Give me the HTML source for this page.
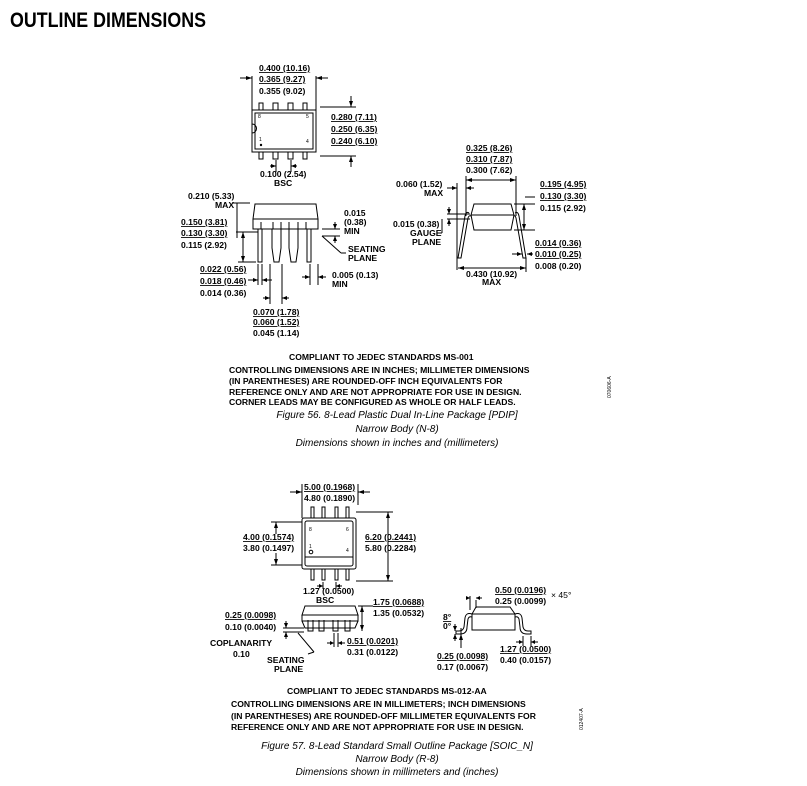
<!DOCTYPE html>
<html><head><meta charset="utf-8"><style>
body{margin:0;background:#fff;width:807px;height:786px;overflow:hidden}
svg{display:block}
text{font-family:"Liberation Sans",Arial,sans-serif;font-size:8.6px;font-weight:bold;fill:#000}
.u{text-decoration:underline}
.c{font-size:10px;font-style:italic;font-weight:normal}
.s{font-size:5px;font-weight:normal}
.t{font-family:"Liberation Sans Narrow","Liberation Sans",sans-serif;font-size:21px;font-weight:bold}
line,path,rect,polyline,polygon,circle{stroke:#000;stroke-width:1;fill:none}
.a{fill:#000;stroke:none}
</style></head><body>
<svg width="807" height="786" viewBox="0 0 807 786">
<text x="10" y="27" class="t" textLength="196" lengthAdjust="spacingAndGlyphs">OUTLINE DIMENSIONS</text>

<!-- PDIP top view -->
<text x="259" y="71" class="u">0.400 (10.16)</text>
<text x="259" y="82" class="u">0.365 (9.27)</text>
<text x="259" y="94">0.355 (9.02)</text>
<line x1="252" y1="76" x2="252" y2="110"/><line x1="316" y1="76" x2="316" y2="110"/>
<line x1="240" y1="78" x2="252" y2="78"/><polygon class="a" points="252,78 246,76 246,80"/>
<line x1="316" y1="78" x2="328" y2="78"/><polygon class="a" points="316,78 322,76 322,80"/>
<rect x="252" y="110" width="64" height="42" stroke-width="1.5"/>
<rect x="255" y="113" width="58" height="36" stroke-width="0.6"/>
<path d="M252,124 a4,4 0 0 1 0,9" />
<g>
<rect x="259" y="103" width="4" height="7"/><rect x="273" y="103" width="5" height="7"/><rect x="288" y="103" width="5" height="7"/><rect x="303" y="103" width="4" height="7"/>
<rect x="259" y="152" width="4" height="7"/><rect x="273" y="152" width="5" height="7"/><rect x="288" y="152" width="5" height="7"/><rect x="303" y="152" width="4" height="7"/>
</g>
<text x="258" y="118" class="s">8</text><text x="306" y="118" class="s">5</text>
<text x="259" y="141" class="s">1</text><text x="306" y="143" class="s">4</text>
<circle cx="261" cy="145" r="1.2" class="a"/>
<line x1="320" y1="107" x2="356" y2="107"/><line x1="320" y1="156" x2="356" y2="156"/>
<line x1="351" y1="96" x2="351" y2="107"/><polygon class="a" points="351,107 349,101 353,101"/>
<line x1="351" y1="156" x2="351" y2="167"/><polygon class="a" points="351,156 349,162 353,162"/>
<text x="331" y="120" class="u">0.280 (7.11)</text>
<text x="331" y="132" class="u">0.250 (6.35)</text>
<text x="331" y="144" class="u">0.240 (6.10)</text>
<line x1="276" y1="160" x2="276" y2="172"/><line x1="291" y1="160" x2="291" y2="172"/>
<line x1="270" y1="166" x2="276" y2="166"/><polygon class="a" points="276,166 271,164 271,168"/>
<line x1="291" y1="166" x2="297" y2="166"/><polygon class="a" points="291,166 296,164 296,168"/>
<text x="260" y="177">0.100 (2.54)</text><text x="274" y="186">BSC</text>

<!-- PDIP side view -->
<path d="M253,219 L255,204 L316,204 L318,219 Z" stroke-width="1"/>
<line x1="253" y1="219" x2="318" y2="219"/>
<path d="M253,219 L253,229 L318,229 L318,219"/>
<path d="M258,229 L258,262 L262,262 L262,229 M272,229 L272,248 L274,262 L279,262 L281,248 L281,229 M289,229 L289,248 L291,262 L296,262 L298,248 L298,229 M307,229 L307,262 L311,262 L311,229"/>
<path d="M261,222 L261,229 M273,222 L273,229 M281,222 L281,229 M289,222 L289,229 M298,222 L298,229 M306,222 L306,229"/>
<text x="188" y="199">0.210 (5.33)</text><text x="215" y="208">MAX</text>
<line x1="237" y1="203" x2="237" y2="238"/><line x1="233" y1="203" x2="250" y2="203"/>
<text x="181" y="225" class="u">0.150 (3.81)</text>
<text x="181" y="236" class="u">0.130 (3.30)</text>
<text x="181" y="248">0.115 (2.92)</text>
<line x1="236" y1="232" x2="258" y2="232"/><line x1="243" y1="232" x2="243" y2="262"/>
<polygon class="a" points="243,232 241,238 245,238"/><polygon class="a" points="243,262 241,256 245,256"/>
<line x1="238" y1="262" x2="256" y2="262"/>
<text x="344" y="216">0.015</text><text x="344" y="225">(0.38)</text><text x="344" y="234">MIN</text>
<line x1="322" y1="229" x2="340" y2="229"/><line x1="322" y1="236" x2="340" y2="236"/>
<line x1="335" y1="222" x2="335" y2="229"/><polygon class="a" points="335,229 333,224 337,224"/>
<line x1="335" y1="236" x2="335" y2="243"/><polygon class="a" points="335,236 333,241 337,241"/>
<line x1="322" y1="236" x2="341" y2="253"/><line x1="341" y1="253" x2="346" y2="253"/>
<text x="348" y="252">SEATING</text><text x="348" y="261">PLANE</text>
<text x="200" y="272" class="u">0.022 (0.56)</text>
<text x="200" y="284" class="u">0.018 (0.46)</text>
<text x="200" y="296">0.014 (0.36)</text>
<line x1="258" y1="264" x2="258" y2="285"/><line x1="262" y1="264" x2="262" y2="285"/>
<line x1="248" y1="280" x2="258" y2="280"/><polygon class="a" points="258,280 253,278 253,282"/>
<line x1="262" y1="280" x2="272" y2="280"/><polygon class="a" points="262,280 267,278 267,282"/>
<line x1="310" y1="264" x2="310" y2="285"/><line x1="318" y1="264" x2="318" y2="285"/>
<line x1="302" y1="277" x2="310" y2="277"/><polygon class="a" points="310,277 305,275 305,279"/>
<line x1="318" y1="277" x2="326" y2="277"/><polygon class="a" points="318,277 323,275 323,279"/>
<text x="332" y="278">0.005 (0.13)</text><text x="332" y="287">MIN</text>
<line x1="270" y1="264" x2="270" y2="304"/><line x1="282" y1="264" x2="282" y2="304"/>
<line x1="263" y1="298" x2="270" y2="298"/><polygon class="a" points="270,298 265,296 265,300"/>
<line x1="282" y1="298" x2="289" y2="298"/><polygon class="a" points="282,298 287,296 287,300"/>
<text x="253" y="315" class="u">0.070 (1.78)</text>
<text x="253" y="325" class="u">0.060 (1.52)</text>
<text x="253" y="336">0.045 (1.14)</text>

<!-- PDIP end view -->
<text x="466" y="151" class="u">0.325 (8.26)</text>
<text x="466" y="162" class="u">0.310 (7.87)</text>
<text x="466" y="173">0.300 (7.62)</text>
<line x1="466" y1="176" x2="466" y2="216"/><line x1="516" y1="176" x2="516" y2="216"/>
<line x1="466" y1="180" x2="516" y2="180"/><polygon class="a" points="466,180 472,178 472,182"/><polygon class="a" points="516,180 510,178 510,182"/>
<text x="396" y="187">0.060 (1.52)</text><text x="424" y="196">MAX</text>
<line x1="457" y1="183" x2="457" y2="270"/>
<line x1="447" y1="188" x2="457" y2="188"/><polygon class="a" points="457,188 452,186 452,190"/>
<line x1="466" y1="188" x2="474" y2="188"/><polygon class="a" points="466,188 471,186 471,190"/>
<path d="M471,215 L474,204 L511,204 L514,215 L511,230 L474,230 Z"/>
<line x1="471" y1="215" x2="514" y2="215"/>
<path d="M469,213 Q466,211 465,216 L458,258 L461,258 L468,218 Q469,215 471,216"/>
<path d="M515,213 Q518,211 519,216 L526,258 L523,258 L516,218 Q515,215 514,216"/>
<line x1="447" y1="214" x2="470" y2="214"/><line x1="447" y1="219" x2="470" y2="219"/>
<line x1="449" y1="207" x2="449" y2="214"/><polygon class="a" points="449,214 447,209 451,209"/>
<line x1="449" y1="219" x2="449" y2="226"/><polygon class="a" points="449,219 447,224 451,224"/>
<text x="393" y="227">0.015 (0.38)</text><text x="410" y="236">GAUGE</text><text x="412" y="245">PLANE</text>
<line x1="437" y1="233" x2="442" y2="233"/><line x1="442" y1="233" x2="442" y2="219"/>
<text x="540" y="187" class="u">0.195 (4.95)</text>
<text x="540" y="199" class="u">0.130 (3.30)</text>
<text x="540" y="211">0.115 (2.92)</text>
<line x1="514" y1="204" x2="535" y2="204"/><line x1="514" y1="230" x2="535" y2="230"/>
<line x1="524" y1="204" x2="524" y2="230"/><polygon class="a" points="524,204 522,210 526,210"/><polygon class="a" points="524,230 522,224 526,224"/>
<line x1="525" y1="197" x2="535" y2="197"/>
<text x="535" y="246" class="u">0.014 (0.36)</text>
<text x="535" y="257" class="u">0.010 (0.25)</text>
<text x="535" y="269">0.008 (0.20)</text>
<line x1="512" y1="254" x2="522" y2="254"/><polygon class="a" points="522,254 517,252 517,256"/>
<line x1="527" y1="254" x2="533" y2="254"/><polygon class="a" points="527,254 532,252 532,256"/>
<line x1="526" y1="258" x2="526" y2="272"/>
<line x1="458" y1="268" x2="526" y2="268"/><polygon class="a" points="458,268 464,266 464,270"/><polygon class="a" points="526,268 520,266 520,270"/>
<text x="466" y="277">0.430 (10.92)</text><text x="482" y="285">MAX</text>

<text x="289" y="360">COMPLIANT TO JEDEC STANDARDS MS-001</text>
<text x="229" y="373">CONTROLLING DIMENSIONS ARE IN INCHES; MILLIMETER DIMENSIONS</text>
<text x="229" y="384">(IN PARENTHESES) ARE ROUNDED-OFF INCH EQUIVALENTS FOR</text>
<text x="229" y="395">REFERENCE ONLY AND ARE NOT APPROPRIATE FOR USE IN DESIGN.</text>
<text x="229" y="405">CORNER LEADS MAY BE CONFIGURED AS WHOLE OR HALF LEADS.</text>
<text transform="translate(611,398) rotate(-90)" style="font-size:5px;font-weight:normal">070606-A</text>
<text x="397" y="418" class="c" text-anchor="middle">Figure 56. 8-Lead Plastic Dual In-Line Package [PDIP]</text>
<text x="397" y="432" class="c" text-anchor="middle">Narrow Body (N-8)</text>
<text x="397" y="446" class="c" text-anchor="middle">Dimensions shown in inches and (millimeters)</text>

<!-- SOIC top -->
<text x="304" y="490" class="u">5.00 (0.1968)</text>
<text x="304" y="501">4.80 (0.1890)</text>
<line x1="302" y1="484" x2="302" y2="518"/><line x1="358" y1="484" x2="358" y2="505"/>
<line x1="290" y1="492" x2="302" y2="492"/><polygon class="a" points="302,492 296,490 296,494"/>
<line x1="358" y1="492" x2="370" y2="492"/><polygon class="a" points="358,492 364,490 364,494"/>
<rect x="302" y="518" width="54" height="51" rx="2" stroke-width="1.5"/>
<rect x="305" y="521" width="48" height="45" rx="2" stroke-width="0.6"/>
<line x1="305" y1="557" x2="353" y2="557" stroke-width="0.6"/>
<g>
<rect x="311" y="507" width="3" height="11"/><rect x="322" y="507" width="3" height="11"/><rect x="335" y="507" width="3" height="11"/><rect x="346" y="507" width="3" height="11"/>
<rect x="311" y="569" width="3" height="11"/><rect x="322" y="569" width="3" height="11"/><rect x="335" y="569" width="3" height="11"/><rect x="346" y="569" width="3" height="11"/>
</g>
<text x="309" y="531" class="s">8</text><text x="346" y="531" class="s">6</text>
<text x="309" y="548" class="s">1</text><text x="346" y="552" class="s">4</text>
<circle cx="311" cy="552" r="1.8" stroke-width="0.7"/>
<line x1="271" y1="522" x2="302" y2="522"/><line x1="271" y1="565" x2="302" y2="565"/>
<line x1="276" y1="522" x2="276" y2="534"/><polygon class="a" points="276,522 274,528 278,528"/>
<line x1="276" y1="553" x2="276" y2="565"/><polygon class="a" points="276,565 274,559 278,559"/>
<text x="243" y="540" class="u">4.00 (0.1574)</text>
<text x="243" y="551">3.80 (0.1497)</text>
<line x1="356" y1="512" x2="393" y2="512"/><line x1="356" y1="581" x2="393" y2="581"/>
<line x1="388" y1="512" x2="388" y2="581"/><polygon class="a" points="388,512 386,518 390,518"/><polygon class="a" points="388,581 386,575 390,575"/>
<text x="365" y="540" class="u">6.20 (0.2441)</text>
<text x="365" y="551">5.80 (0.2284)</text>
<line x1="323" y1="582" x2="323" y2="589"/><line x1="336" y1="582" x2="336" y2="589"/>
<line x1="317" y1="586" x2="323" y2="586"/><polygon class="a" points="323,586 319,584 319,588"/>
<line x1="336" y1="586" x2="342" y2="586"/><polygon class="a" points="336,586 340,584 340,588"/>
<text x="303" y="594">1.27 (0.0500)</text><text x="316" y="603">BSC</text>

<!-- SOIC side -->
<path d="M302,615 L305,606 L355,606 L358,615 Z"/>
<line x1="302" y1="615" x2="358" y2="615"/>
<path d="M302,615 L302,621 L358,621 L358,615 M302,621 L305,628 L355,628 L358,621"/>
<path d="M308,620 L308,631 L313,631 L313,620 M319,620 L319,631 L324,631 L324,620 M333,620 L333,631 L338,631 L338,620 M345,620 L345,631 L350,631 L350,620"/>
<line x1="358" y1="606" x2="368" y2="606"/>
<line x1="362" y1="606" x2="362" y2="631"/><polygon class="a" points="362,606 360,612 364,612"/><polygon class="a" points="362,631 360,625 364,625"/>
<line x1="362" y1="606" x2="373" y2="606"/>
<text x="373" y="605" class="u">1.75 (0.0688)</text>
<text x="373" y="616">1.35 (0.0532)</text>
<text x="225" y="618" class="u">0.25 (0.0098)</text>
<text x="225" y="630">0.10 (0.0040)</text>
<line x1="283" y1="628" x2="304" y2="628"/><line x1="283" y1="632" x2="304" y2="632"/>
<line x1="286" y1="621" x2="286" y2="628"/><polygon class="a" points="286,628 284,623 288,623"/>
<line x1="286" y1="632" x2="286" y2="639"/><polygon class="a" points="286,632 284,637 288,637"/>
<text x="210" y="646">COPLANARITY</text><text x="233" y="657">0.10</text>
<line x1="298" y1="633" x2="314" y2="652"/><line x1="314" y1="652" x2="308" y2="654"/>
<text x="267" y="663">SEATING</text><text x="274" y="672">PLANE</text>
<line x1="334" y1="633" x2="334" y2="647"/><line x1="338" y1="633" x2="338" y2="647"/>
<line x1="327" y1="643" x2="334" y2="643"/><polygon class="a" points="334,643 330,641 330,645"/>
<line x1="338" y1="643" x2="345" y2="643"/><polygon class="a" points="338,643 342,641 342,645"/>
<text x="347" y="644" class="u">0.51 (0.0201)</text>
<text x="347" y="655">0.31 (0.0122)</text>

<!-- SOIC end -->
<path d="M476,607 L510,607 L515,614 L515,630 L472,630 L472,614 Z"/>
<line x1="472" y1="614" x2="515" y2="614"/>
<path d="M472,614 Q466,612 465,618 L464,627 Q463,631 459,631 L456,631 L456,634 L460,634 Q467,634 467,627 L468,619 Q469,616 472,617"/>
<path d="M515,614 Q521,612 522,618 L523,627 Q524,631 528,631 L531,631 L531,634 L527,634 Q520,634 520,627 L519,619 Q518,616 515,617"/>
<line x1="476" y1="600" x2="476" y2="608"/><line x1="470" y1="596" x2="470" y2="610"/>
<line x1="466" y1="598" x2="470" y2="598"/><polygon class="a" points="470,598 466,596 466,600"/>
<line x1="476" y1="598" x2="482" y2="598"/><polygon class="a" points="476,598 480,596 480,600"/>
<text x="495" y="593" class="u">0.50 (0.0196)</text>
<text x="495" y="604">0.25 (0.0099)</text>
<text x="551" y="598" style="font-weight:normal">× 45°</text>
<text x="443" y="620" class="u">8°</text><text x="443" y="629">0°</text>
<line x1="455" y1="624" x2="455" y2="631"/><line x1="461" y1="628" x2="461" y2="648"/>
<polygon class="a" points="455,631 453,626 457,626"/><polygon class="a" points="455,634 453,639 457,639"/>
<line x1="455" y1="634" x2="455" y2="641"/>
<polygon class="a" points="461,634 459,640 463,640"/>
<text x="437" y="659" class="u">0.25 (0.0098)</text>
<text x="437" y="670">0.17 (0.0067)</text>
<line x1="523" y1="636" x2="523" y2="646"/><line x1="531" y1="636" x2="531" y2="646"/>
<line x1="516" y1="642" x2="523" y2="642"/><polygon class="a" points="523,642 519,640 519,644"/>
<line x1="531" y1="642" x2="538" y2="642"/><polygon class="a" points="531,642 535,640 535,644"/>
<text x="500" y="652" class="u">1.27 (0.0500)</text>
<text x="500" y="663">0.40 (0.0157)</text>

<text x="287" y="694">COMPLIANT TO JEDEC STANDARDS MS-012-AA</text>
<text x="231" y="707">CONTROLLING DIMENSIONS ARE IN MILLIMETERS; INCH DIMENSIONS</text>
<text x="231" y="719">(IN PARENTHESES) ARE ROUNDED-OFF MILLIMETER EQUIVALENTS FOR</text>
<text x="231" y="730">REFERENCE ONLY AND ARE NOT APPROPRIATE FOR USE IN DESIGN.</text>
<text transform="translate(583,730) rotate(-90)" style="font-size:5px;font-weight:normal">012407-A</text>
<text x="397" y="749" class="c" text-anchor="middle">Figure 57. 8-Lead Standard Small Outline Package [SOIC_N]</text>
<text x="397" y="762" class="c" text-anchor="middle">Narrow Body (R-8)</text>
<text x="397" y="775" class="c" text-anchor="middle">Dimensions shown in millimeters and (inches)</text>
</svg>
</body></html>
